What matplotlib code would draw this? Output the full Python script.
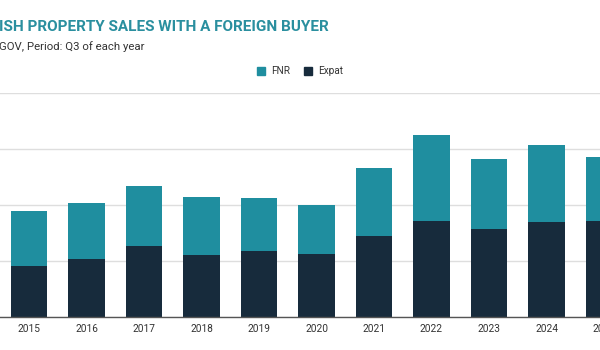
import numpy as np
import matplotlib
matplotlib.use("Agg")
import matplotlib.pyplot as plt
from matplotlib.patches import Rectangle

# values (units = one gridline step of 500)
years = ["2015", "2016", "2017", "2018", "2019", "2020", "2021", "2022", "2023", "2024", "2025"]
expat = [455, 515, 631, 554, 589, 563, 723, 857, 783, 851, 857]
total = [946, 1015, 1167, 1071, 1063, 1000, 1330, 1628, 1413, 1533, 1429]
fnr = [t - e for t, e in zip(total, expat)]

teal = "#1f8e9f"
navy = "#172b3c"

plt.rcParams["font.family"] = ["Roboto", "DejaVu Sans"]

fig = plt.figure(figsize=(6, 3.5), dpi=100)
W, H = 600, 350

# axes positioned in pixels; the chart is cropped on both sides
x0, step = 29, 57.5
xmin, xmax = -0.8, 10.6
left_px = x0 + xmin * step
right_px = x0 + xmax * step
base_px, top_px = 317, 93
ax = fig.add_axes([left_px / W, (H - base_px) / H,
                   (right_px - left_px) / W, (base_px - top_px) / H])

x = np.arange(len(years))
ax.bar(x, expat, width=0.64, color=navy, zorder=3, label="Expat")
ax.bar(x, fnr, bottom=expat, width=0.64, color=teal, zorder=3, label="FNR")

ax.set_xlim(xmin, xmax)
ax.set_ylim(0, 2000)
ax.set_yticks([0, 500, 1000, 1500, 2000])
ax.yaxis.grid(True, color="#dedede", linewidth=1, zorder=0)
ax.set_yticklabels([])
ax.tick_params(axis="y", length=0)
ax.set_xticks(x)
ax.set_xticklabels(years, fontsize=7.3, color="#333333")
ax.tick_params(axis="x", length=0, pad=5)
for s in ["top", "right", "left"]:
    ax.spines[s].set_visible(False)
ax.spines["bottom"].set_color("#555555")
ax.spines["bottom"].set_linewidth(1)
ax.spines["bottom"].set_zorder(4)

# title and subtitle (cut off at the left edge of the picture)
fig.text(-1 / W, 1 - 27 / H, "ISH PROPERTY SALES WITH A FOREIGN BUYER",
         fontsize=11.0, fontweight="bold", color="#2a8f9f", va="center", ha="left")
fig.text(-1 / W, 1 - 47 / H, "GOV, Period: Q3 of each year",
         fontsize=8.2, color="#333333", va="center", ha="left")

# legend drawn by hand in figure pixels
for px, col, lab in [(257, teal, "FNR"), (304, navy, "Expat")]:
    fig.patches.append(Rectangle((px / W, 1 - 75 / H), 8 / W, 8 / H,
                                 transform=fig.transFigure, color=col))
    fig.text((px + 14) / W, 1 - 71 / H, lab, fontsize=7.2, color="#333333",
             va="center", ha="left")

fig.savefig("out.png", dpi=100)
